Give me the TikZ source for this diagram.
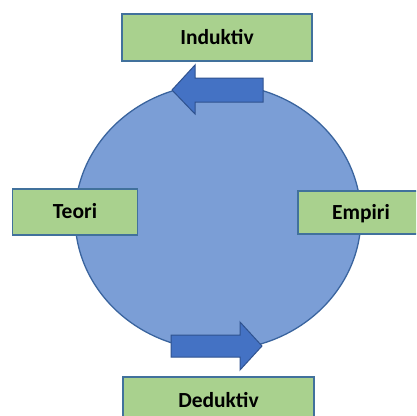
\documentclass[tikz,border=0pt]{standalone}
\usepackage{fontspec}
\setmainfont{Carlito}
\definecolor{boxfill}{HTML}{A9D18E}
\definecolor{boxline}{HTML}{41719C}
\definecolor{circfill}{HTML}{7B9ED6}
\definecolor{circline}{HTML}{3A649E}
\definecolor{arrfill}{HTML}{4472C4}
\definecolor{arrline}{HTML}{2F528F}
\tikzset{
  labelbox/.style={draw=boxline, fill=boxfill, line width=1.3pt, inner sep=0pt,
    font=\fontsize{21.5}{25}\selectfont\bfseries, text=black,
    text height=13.5pt, text depth=0pt},
  bigcircle/.style={draw=circline, fill=circfill, line width=1.3pt},
  blockarrow/.style={draw=arrline, fill=arrfill, line width=1pt, line join=miter}
}
\begin{document}
\begin{tikzpicture}[x=1pt,y=-1pt]
\useasboundingbox (0,0) rectangle (416,416);
\fill[white] (0,0) rectangle (416,416);
\clip (0,0) rectangle (416,416);
% cycle
\coordinate (cc) at (218,217);
\path[bigcircle] (cc) ellipse [x radius=143, y radius=133];
% inductive arrow (top, pointing left)
\path[blockarrow] (172,90) -- (195,65) -- (195,78) -- (263,78) -- (263,102)
  -- (195,102) -- (195,114) -- cycle;
% deductive arrow (bottom, pointing right)
\path[blockarrow] (262,346) -- (240,322) -- (240,335) -- (171,335) -- (171,357)
  -- (240,357) -- (240,370) -- cycle;
% labels
\node[labelbox, minimum width=190pt, minimum height=47pt] (ind) at (217,37.5) {Induktiv};
\node[labelbox, minimum width=191pt, minimum height=47pt] (ded) at (218.5,400.5) {Deduktiv};
\node[labelbox, minimum width=125pt, minimum height=46pt] (teo) at (75,212) {Teori};
\node[labelbox, minimum width=126pt, minimum height=43pt] (emp) at (361,212.5) {Empiri};
\end{tikzpicture}
\end{document}
